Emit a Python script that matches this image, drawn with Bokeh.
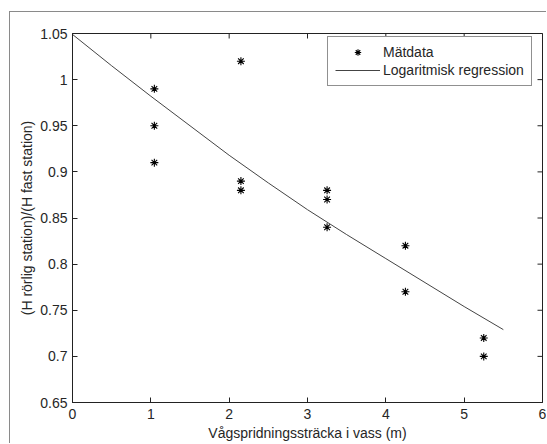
import math
from bokeh.plotting import figure
from bokeh.models import LinearAxis, FixedTicker, Range1d, Legend, LegendItem
from bokeh.embed import file_html
from bokeh.resources import INLINE

# ---- data ----
meas_x = [1.045, 1.045, 1.045, 2.15, 2.15, 2.15, 3.25, 3.25, 3.25, 4.25, 4.25, 5.25, 5.25]
meas_y = [0.99, 0.95, 0.91, 1.02, 0.89, 0.88, 0.88, 0.87, 0.84, 0.82, 0.77, 0.72, 0.70]

reg_x = [0, 0.5, 1, 1.5, 2, 2.5, 3, 3.5, 4, 4.5, 5, 5.5]
reg_y = [1.049, 1.015, 0.982, 0.950, 0.918, 0.888, 0.859, 0.832, 0.806, 0.780, 0.754, 0.729]

x_ticks = [0, 1, 2, 3, 4, 5, 6]
y_ticks = [0.65, 0.7, 0.75, 0.8, 0.85, 0.9, 0.95, 1.0, 1.05]
y_tick_labels = ["0.65", "0.7", "0.75", "0.8", "0.85", "0.9", "0.95", "1", "1.05"]

x_label = "Vågspridningssträcka i vass (m)"
y_label = "(H rörlig station)/(H fast station)"
legend_labels = ["Mätdata", "Logaritmisk regression"]

X_MIN, X_MAX = 0, 6
Y_MIN, Y_MAX = 0.65, 1.05

FONT = "Liberation Sans"
FS = "14px"
AX = "#222222"
TXT = "#262626"
FRAME = "#8a8a8a"

p = figure(width=537, height=432, output_backend="svg", toolbar_location=None,
           x_range=Range1d(X_MIN, X_MAX), y_range=Range1d(Y_MIN, Y_MAX),
           min_border_left=62, min_border_right=5, min_border_top=21,
           min_border_bottom=42, x_axis_location=None, y_axis_location=None,
           margin=(11, 0, 0, 9),
           styles={"border-left": f"1px solid {FRAME}", "border-top": f"1px solid {FRAME}"})
p.grid.visible = False
p.outline_line_color = AX
p.background_fill_color = "white"
p.border_fill_color = "white"

def style_axis(ax):
    ax.axis_line_color = AX
    ax.major_tick_line_color = AX
    ax.major_tick_in = 5
    ax.major_tick_out = 0
    ax.minor_tick_line_color = None
    ax.major_label_text_font = FONT
    ax.major_label_text_color = TXT
    ax.major_label_text_font_size = FS
    ax.axis_label_text_font = FONT
    ax.axis_label_text_font_size = FS
    ax.axis_label_text_font_style = "normal"
    ax.axis_label_text_color = TXT

xb = LinearAxis(ticker=FixedTicker(ticks=x_ticks), axis_label=x_label)
style_axis(xb)
xb.major_label_standoff = 6
xb.axis_label_standoff = 3
p.add_layout(xb, "below")

yl = LinearAxis(ticker=FixedTicker(ticks=y_ticks), axis_label=y_label,
                major_label_overrides={t: s for t, s in zip(y_ticks, y_tick_labels)})
style_axis(yl)
yl.major_label_standoff = 5
yl.axis_label_standoff = 2
p.add_layout(yl, "left")

# inward ticks on the top and right edges of the box (clipped to the frame)
p.scatter(x_ticks, [Y_MAX] * len(x_ticks), marker="dash", angle=math.pi / 2,
          size=10, line_color=AX, line_width=1)
p.scatter([X_MAX] * len(y_ticks), y_ticks, marker="dash", size=10,
          line_color=AX, line_width=1)

r_pts = p.scatter(meas_x, meas_y, marker="asterisk", size=8, line_color="black",
                  line_width=1.1)
r_line = p.line(reg_x, reg_y, line_color="#444444", line_width=1)

legend = Legend(items=[LegendItem(label=legend_labels[0], renderers=[r_pts]),
                       LegendItem(label=legend_labels[1], renderers=[r_line])],
                location=(255, 316))
legend.label_text_font = FONT
legend.label_text_font_size = FS
legend.label_text_color = TXT
legend.border_line_color = AX
legend.border_line_width = 1
legend.background_fill_color = "white"
legend.background_fill_alpha = 1
legend.padding = 7
legend.spacing = 2
legend.margin = 0
legend.label_height = 16
legend.glyph_height = 16
legend.glyph_width = 45
legend.label_standoff = 3
p.add_layout(legend, "center")

open("out.html", "w").write(file_html(p, INLINE))
